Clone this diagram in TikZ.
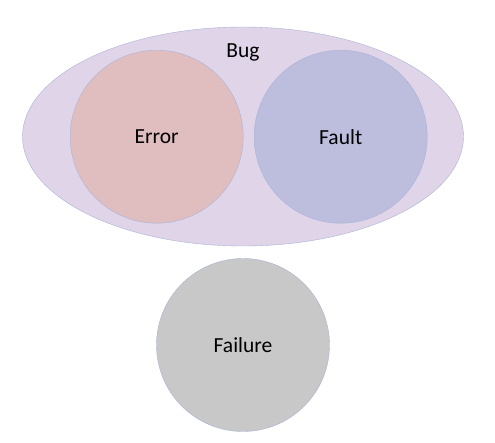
\documentclass[tikz,border=0pt]{standalone}
\usepackage{fontspec}
\setmainfont{Carlito}
\usepackage{tikz}
\usetikzlibrary{shapes.geometric}
\definecolor{bugfill}{RGB}{224,212,232}
\definecolor{errfill}{RGB}{224,190,192}
\definecolor{faultfill}{RGB}{189,189,222}
\definecolor{failfill}{RGB}{200,200,200}
\definecolor{rim}{RGB}{170,178,214}
\tikzstyle{every node}=[font=\fontsize{21.5}{25}\selectfont,inner sep=0pt]
\tikzstyle{set}=[ellipse,draw=rim,thin,minimum width=441pt,minimum height=219pt]
\tikzstyle{part}=[circle,draw=rim,thin,minimum size=173pt]

\begin{document}
\begin{tikzpicture}[x=1pt,y=-1pt]
  \useasboundingbox (0,0) rectangle (495,442);
  \node[set,fill=bugfill] (bug) at (243,136.5) {};
  \node (buglabel) at (243,52) {Bug};
  \node[part,fill=errfill] (error) at (156.7,136.7) {Error};
  \node[part,fill=faultfill] (fault) at (340.7,136.7) {Fault};
  \node[part,fill=failfill] (failure) at (243,345) {Failure};
\end{tikzpicture}
\end{document}
